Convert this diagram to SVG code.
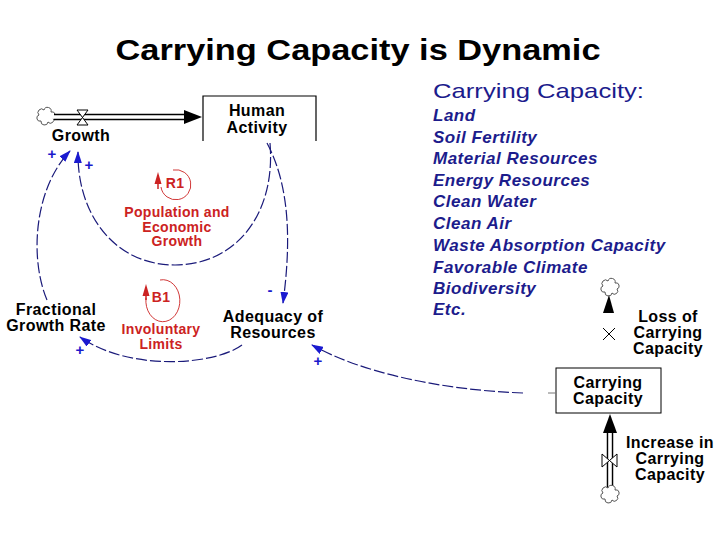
<svg xmlns="http://www.w3.org/2000/svg" width="720" height="540" viewBox="0 0 720 540">
<style>
.lbl{font-family:"Liberation Sans",Arial,sans-serif;font-weight:bold;font-size:16px;fill:#000;text-anchor:middle;letter-spacing:0.4px}
.red{font-family:"Liberation Sans",Arial,sans-serif;font-weight:bold;font-size:14px;fill:#cc2222;text-anchor:middle;letter-spacing:0.3px}
.list{font-family:"Liberation Sans",Arial,sans-serif;font-weight:bold;font-style:italic;font-size:17px;fill:#1c1c8c;letter-spacing:0.5px}
.link{fill:none;stroke:#1a1a7a;stroke-width:1.2;stroke-dasharray:11 3}
.sign{font-family:"Liberation Sans",Arial,sans-serif;font-weight:bold;font-size:15px;fill:#1a1acc;text-anchor:middle}
.pipeo{stroke:#000;stroke-width:6.5;fill:none}
.pipei{stroke:#fff;stroke-width:3.6;fill:none}
.cloud{fill:#fff;stroke:#555;stroke-width:1}
.valve{fill:#fff;stroke:#000;stroke-width:1}
.loop{fill:none;stroke:#cc2222;stroke-width:0.9}
</style>
<defs>
<marker id="ah" viewBox="0 0 12 8" refX="11" refY="4" markerWidth="12" markerHeight="8" markerUnits="userSpaceOnUse" orient="auto">
<path d="M0,0 L12,4 L0,8 z" fill="#1a1ad0"/>
</marker>
<path id="cl" d="M-5,5 A3,3 0 0 1 -7,-1 A3.5,3.5 0 0 1 -2,-6 A3.5,3.5 0 0 1 5,-4 A3,3 0 0 1 7,2 A3,3 0 0 1 2,6 A3,3 0 0 1 -5,5 z"/>
</defs>

<text x="358" y="60" font-family="'Liberation Sans',Arial,sans-serif" font-weight="bold" font-size="29" text-anchor="middle" textLength="485" lengthAdjust="spacingAndGlyphs">Carrying Capacity is Dynamic</text>

<g id="cc-list">
<text x="433" y="98" font-family="'Liberation Sans',Arial,sans-serif" font-size="21" fill="#1c1c8c" textLength="211" lengthAdjust="spacingAndGlyphs">Carrying Capacity:</text>
<text class="list" x="433" y="121">Land</text>
<text class="list" x="433" y="143">Soil Fertility</text>
<text class="list" x="433" y="164">Material Resources</text>
<text class="list" x="433" y="186">Energy Resources</text>
<text class="list" x="433" y="207">Clean Water</text>
<text class="list" x="433" y="229">Clean Air</text>
<text class="list" x="433" y="251">Waste Absorption Capacity</text>
<text class="list" x="433" y="273">Favorable Climate</text>
<text class="list" x="433" y="294">Biodiversity</text>
<text class="list" x="433" y="315">Etc.</text>
</g>

<g id="connectors">
<path class="link" d="M270,143 C276,215 235,265 175,265 C115,265 77,215 78,152" marker-end="url(#ah)"/>
<path class="link" d="M47,300 C30,260 33,190 70,151" marker-end="url(#ah)"/>
<path class="link" d="M267,143 C292,190 290,250 283,303" marker-end="url(#ah)"/>
<path class="link" d="M242,345 C215,365 130,372 80,337" marker-end="url(#ah)"/>
<path class="link" d="M523,393 C440,390 360,372 312,345" marker-end="url(#ah)"/>
<text class="sign" x="52" y="159">+</text>
<text class="sign" x="89" y="170">+</text>
<text class="sign" x="80" y="355">+</text>
<text class="sign" x="318" y="366">+</text>
<text class="sign" x="270" y="295">-</text>
</g>

<g id="growth-flow">
<use href="#cl" class="cloud" x="46" y="116"/>
<path class="pipeo" d="M54,117 H186"/>
<path class="pipei" d="M52,117 H188"/>
<path d="M184,110 L202,117 L184,124 z" fill="#000"/>
<path class="valve" d="M77,110 H88 L77,125 H88 Z"/>
<text class="lbl" x="81" y="141">Growth</text>
</g>

<g id="human-activity">
<path d="M203,141 V96 H316 V141" fill="#fff" stroke="#000" stroke-width="1.2"/>
<text class="lbl" x="257" y="116">Human</text>
<text class="lbl" x="257" y="133">Activity</text>
</g>

<g id="r1">
<path class="loop" d="M161,187 A15,15 0 1 0 173,170"/>
<path d="M158,172 L154.5,184 L161.5,184 z" fill="#cc2222"/>
<line x1="158" y1="183" x2="158" y2="189" stroke="#cc2222" stroke-width="1.5"/>
<text class="red" x="175" y="188" font-size="15">R1</text>
<text class="red" x="177" y="217">Population and</text>
<text class="red" x="177" y="231.5">Economic</text>
<text class="red" x="177" y="246">Growth</text>
</g>

<g id="b1">
<path class="loop" d="M146,298 A17,21 0 1 0 160,280"/>
<path d="M146,284 L142.5,296 L149.5,296 z" fill="#cc2222"/>
<line x1="146" y1="295" x2="146" y2="300" stroke="#cc2222" stroke-width="1.5"/>
<text class="red" x="161" y="302" font-size="15">B1</text>
<text class="red" x="161" y="334">Involuntary</text>
<text class="red" x="161" y="348.5">Limits</text>
</g>

<g id="fractional-growth-rate">
<text class="lbl" x="56" y="315">Fractional</text>
<text class="lbl" x="56" y="331">Growth Rate</text>
</g>

<g id="adequacy">
<text class="lbl" x="273" y="322">Adequacy of</text>
<text class="lbl" x="273" y="338">Resources</text>
</g>

<g id="carrying-capacity">
<rect x="556" y="368" width="105" height="45" fill="#fff" stroke="#000" stroke-width="1"/>
<line x1="548" y1="393" x2="556" y2="393" stroke="#777" stroke-width="1"/>
<text class="lbl" x="608" y="388">Carrying</text>
<text class="lbl" x="608" y="404">Capacity</text>
</g>

<g id="loss-flow">
<use href="#cl" class="cloud" x="610" y="287"/>
<path d="M609,295 L614,313 L603,313 z" fill="#000"/>
<path d="M603,328 L615,340 M615,328 L603,340" stroke="#000" stroke-width="1"/>
<text class="lbl" x="668" y="322">Loss of</text>
<text class="lbl" x="668" y="338">Carrying</text>
<text class="lbl" x="668" y="354">Capacity</text>
</g>

<g id="increase-flow">
<path class="pipeo" d="M610,430 V488"/>
<path class="pipei" d="M610,428 V490"/>
<path d="M610,414 L617,433 L603,433 z" fill="#000"/>
<path class="valve" d="M602,454 V467 L617,454 V467 Z"/>
<use href="#cl" class="cloud" x="610" y="494"/>
<text class="lbl" x="670" y="448">Increase in</text>
<text class="lbl" x="670" y="464">Carrying</text>
<text class="lbl" x="670" y="480">Capacity</text>
</g>
</svg>
